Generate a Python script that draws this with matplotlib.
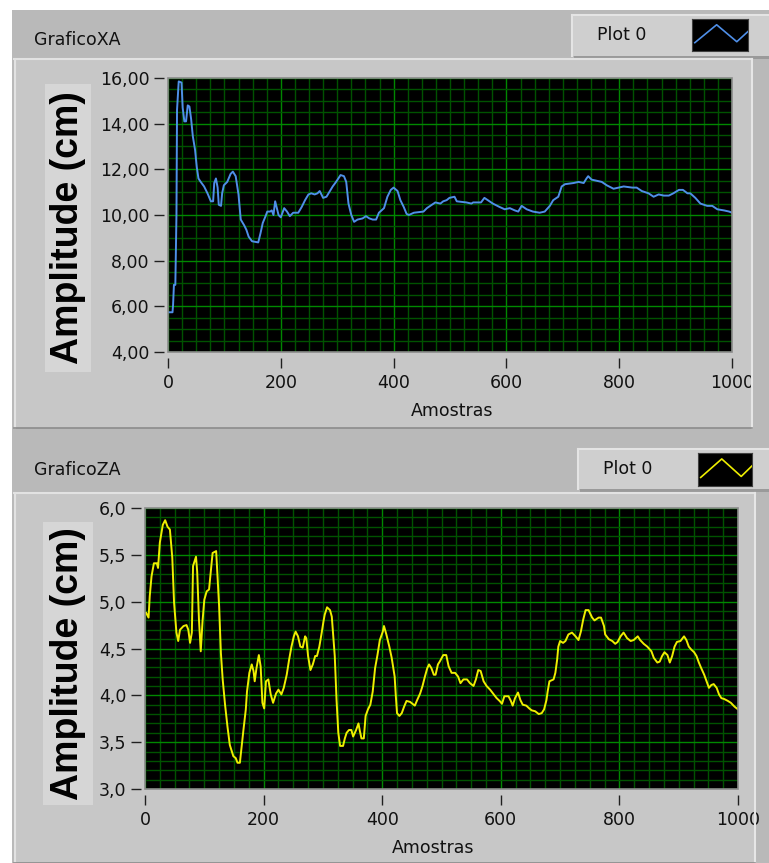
import matplotlib
matplotlib.use('Agg')
import matplotlib.pyplot as plt
from matplotlib.patches import Rectangle
from matplotlib.lines import Line2D
from matplotlib.ticker import MultipleLocator, FuncFormatter

W, H = 769, 863

# GraficoXA: amostra -> amplitude (cm)
xa_amostras = [2, 8, 9, 10.5, 13, 15, 16, 19, 24, 26,
               29, 32, 35, 38, 41, 44, 48, 51, 54, 58,
               64, 70, 76, 80, 82, 85, 88, 90, 94, 96,
               99, 105, 111, 115, 120, 125, 129, 135, 139, 143,
               149, 160, 164, 168, 173, 176, 181, 184, 187, 190,
               193, 196, 200, 206, 211, 216, 222, 231, 237, 243,
               249, 254, 260, 265, 269, 275, 281, 287, 292, 298,
               306, 312, 316, 320, 325, 330, 336, 345, 351, 357,
               363, 369, 374, 383, 389, 395, 400, 407, 412, 418,
               423, 427, 436, 453, 459, 468, 474, 483, 488, 494,
               499, 508, 512, 529, 538, 541, 555, 561, 567, 576,
               588, 597, 606, 615, 621, 627, 636, 647, 659, 668,
               677, 683, 692, 698, 704, 719, 728, 737, 742, 745,
               751, 760, 769, 778, 790, 799, 808, 823, 831, 840,
               852, 861, 870, 879, 888, 896, 906, 913, 921, 926,
               935, 944, 956, 965, 974, 986, 995, 1000]
xa_amplitude = [5.74, 5.74, 6.06, 6.94, 6.94, 10.0, 14.6, 15.85, 15.8, 14.7,
                14.1, 14.1, 14.8, 14.75, 14.2, 13.45, 12.85, 12.1, 11.6, 11.45,
                11.25, 10.95, 10.6, 10.6, 11.4, 11.6, 11.2, 10.45, 10.4, 10.95,
                11.3, 11.45, 11.8, 11.9, 11.7, 10.9, 9.8, 9.55, 9.35, 9.05,
                8.85, 8.8, 9.2, 9.65, 9.95, 10.15, 10.15, 10.2, 10.0, 10.6,
                10.3, 10.0, 9.9, 10.3, 10.15, 9.95, 10.1, 10.1, 10.35, 10.65,
                10.9, 10.95, 10.9, 10.95, 11.05, 10.75, 10.8, 11.05, 11.25, 11.45,
                11.75, 11.7, 11.45, 10.5, 10.0, 9.7, 9.8, 9.85, 9.95, 9.85,
                9.8, 9.8, 10.1, 10.3, 10.8, 11.1, 11.2, 11.05, 10.65, 10.35,
                10.05, 10.0, 10.1, 10.15, 10.3, 10.45, 10.55, 10.5, 10.6, 10.65,
                10.75, 10.8, 10.6, 10.55, 10.5, 10.55, 10.55, 10.75, 10.65, 10.5,
                10.35, 10.25, 10.3, 10.2, 10.15, 10.4, 10.25, 10.15, 10.1, 10.15,
                10.4, 10.65, 10.8, 11.25, 11.35, 11.4, 11.45, 11.4, 11.6, 11.7,
                11.55, 11.5, 11.45, 11.3, 11.15, 11.2, 11.25, 11.2, 11.2, 11.05,
                10.95, 10.8, 10.9, 10.85, 10.85, 10.95, 11.1, 11.1, 10.95, 10.95,
                10.75, 10.5, 10.4, 10.4, 10.25, 10.2, 10.15, 10.1]

# GraficoZA
za_amostras = [2, 6, 8, 11, 15, 20, 22, 25, 30, 34,
               38, 42, 46, 49, 53, 56, 59, 65, 70, 73,
               76, 79, 81, 86, 88, 91, 94, 97, 100, 104,
               108, 111, 114, 120, 122, 125, 128, 131, 135, 139,
               143, 149, 153, 156, 160, 163, 166, 170, 172, 176,
               180, 183, 185, 188, 192, 195, 198, 201, 204, 208,
               212, 216, 221, 225, 230, 234, 239, 243, 247, 251,
               254, 258, 262, 266, 270, 272, 275, 279, 283, 287,
               290, 294, 298, 301, 303, 307, 312, 315, 317, 320,
               323, 326, 329, 334, 337, 340, 344, 348, 351, 356,
               360, 362, 365, 369, 372, 376, 380, 384, 388, 392,
               396, 401, 403, 407, 412, 416, 421, 423, 425, 429,
               433, 437, 441, 447, 451, 455, 459, 464, 468, 472,
               476, 479, 483, 487, 490, 494, 497, 503, 508, 512,
               517, 523, 528, 532, 537, 543, 548, 554, 558, 562,
               566, 571, 576, 582, 588, 593, 598, 602, 606, 613,
               617, 620, 624, 629, 633, 637, 643, 648, 652, 658,
               664, 669, 673, 677, 679, 682, 689, 692, 695, 697,
               700, 705, 709, 714, 720, 726, 731, 735, 739, 743,
               748, 754, 758, 765, 769, 774, 776, 782, 788, 793,
               797, 802, 807, 813, 819, 824, 831, 835, 841, 847,
               854, 858, 864, 868, 872, 876, 881, 885, 889, 893,
               897, 903, 909, 913, 917, 921, 926, 930, 934, 938,
               943, 947, 951, 955, 959, 964, 968, 972, 977, 983,
               988, 994, 1000]
za_amplitude = [4.88, 4.83, 5.06, 5.27, 5.41, 5.41, 5.36, 5.63, 5.82, 5.87,
                5.80, 5.77, 5.47, 4.99, 4.67, 4.58, 4.70, 4.74, 4.75, 4.70,
                4.56, 4.67, 5.38, 5.48, 5.32, 4.81, 4.47, 4.79, 5.02, 5.11,
                5.13, 5.32, 5.52, 5.54, 5.31, 4.95, 4.45, 4.17, 3.90, 3.67,
                3.47, 3.35, 3.33, 3.28, 3.28, 3.46, 3.63, 3.85, 4.04, 4.24,
                4.33, 4.26, 4.15, 4.29, 4.43, 4.31, 3.92, 3.86, 4.15, 4.17,
                4.01, 3.92, 4.02, 4.06, 4.01, 4.08, 4.22, 4.38, 4.52, 4.63,
                4.68, 4.63, 4.52, 4.51, 4.63, 4.61, 4.42, 4.27, 4.33, 4.42,
                4.42, 4.52, 4.67, 4.79, 4.86, 4.94, 4.91, 4.84, 4.67, 4.42,
                3.95, 3.60, 3.46, 3.46, 3.54, 3.60, 3.63, 3.63, 3.56, 3.63,
                3.70, 3.63, 3.54, 3.54, 3.78, 3.85, 3.90, 4.04, 4.29, 4.43,
                4.59, 4.68, 4.74, 4.65, 4.52, 4.40, 4.20, 3.99, 3.81, 3.78,
                3.81, 3.88, 3.94, 3.93, 3.91, 3.89, 3.95, 4.02, 4.10, 4.20,
                4.29, 4.33, 4.29, 4.22, 4.22, 4.33, 4.36, 4.43, 4.43, 4.31,
                4.24, 4.24, 4.20, 4.13, 4.17, 4.17, 4.13, 4.10, 4.17, 4.27,
                4.26, 4.15, 4.10, 4.06, 4.01, 3.97, 3.94, 3.91, 3.99, 3.99,
                3.94, 3.89, 3.97, 4.03, 3.95, 3.90, 3.89, 3.86, 3.84, 3.83,
                3.80, 3.81, 3.85, 3.95, 4.04, 4.15, 4.17, 4.24, 4.38, 4.52,
                4.58, 4.56, 4.58, 4.65, 4.67, 4.63, 4.59, 4.68, 4.81, 4.91,
                4.91, 4.83, 4.80, 4.83, 4.83, 4.74, 4.65, 4.60, 4.58, 4.55,
                4.57, 4.63, 4.67, 4.61, 4.58, 4.59, 4.63, 4.59, 4.55, 4.52,
                4.47, 4.40, 4.35, 4.36, 4.42, 4.46, 4.43, 4.35, 4.42, 4.52,
                4.57, 4.58, 4.63, 4.59, 4.52, 4.49, 4.46, 4.42, 4.35, 4.29,
                4.22, 4.15, 4.08, 4.11, 4.12, 4.08, 4.01, 3.97, 3.96, 3.94,
                3.92, 3.88, 3.85]

x_ticks = [0, 200, 400, 600, 800, 1000]
xa_yticks = [4, 6, 8, 10, 12, 14, 16]
za_yticks = [3.0, 3.5, 4.0, 4.5, 5.0, 5.5, 6.0]

# zig-zag do icone da legenda (coordenadas do icone)
icon_x = [0.05, 0.44, 0.80, 1.0]
icon_y = [0.26, 0.82, 0.29, 0.61]

GRAY_OUT = '#b9b9b9'
GRAY_IN = '#c7c7c7'
GRAY_LBL = '#d6d6d6'
TXT = '#111111'
FONT = 'DejaVu Sans'


def rect_px(x0, y0, x1, y1):
    return [x0 / W, 1 - y1 / H, (x1 - x0) / W, (y1 - y0) / H]


def box(fig, x0, y0, x1, y1, color, z=0):
    l, b, w, h = rect_px(x0, y0, x1, y1)
    fig.add_artist(Rectangle((l, b), w, h, facecolor=color, edgecolor='none', zorder=z))


def hline(fig, x0, x1, y, color, lw=1.0):
    fig.add_artist(Line2D([x0 / W, x1 / W], [1 - y / H, 1 - y / H], color=color, lw=lw))


def vline(fig, x, y0, y1, color, lw=1.0):
    fig.add_artist(Line2D([x / W, x / W], [1 - y0 / H, 1 - y1 / H], color=color, lw=lw))


def chart(fig, g, xs, ys, color, yticks, ystep, ndec, title):
    # painel interno com relevo
    x0, y0, x1, y1 = g['panel']
    box(fig, x0, y0, x1, y1, GRAY_IN)
    hline(fig, x0, x1, y0, '#e2e2e2', 1.5)
    vline(fig, x0 + 1, y0, y1, '#e2e2e2', 1.5)
    vline(fig, x1, y0, y1, '#e6e6e6', 1.5)
    hline(fig, x0, x1, y1, '#8c8c8c', 1.2)

    # caixa do rotulo Y
    lx0, ly0, lx1, ly1 = g['lbox']
    box(fig, lx0, ly0, lx1, ly1, GRAY_LBL)
    fig.text((lx0 + lx1) / 2 / W, 1 - (ly0 + ly1) / 2 / H, 'Amplitude (cm)',
             rotation=90, ha='center', va='center', fontsize=27,
             family='Liberation Sans', weight='bold', color='black')

    # titulo e legenda
    tx, ty = g['title']
    fig.text(tx / W, 1 - ty / H, title, fontsize=12.5, family=FONT,
             color=TXT, ha='left', va='center')
    gx0, gy0, gx1, gy1 = g['legend']
    box(fig, gx0 + 2, gy0 + 2, gx1, gy1 + 3, '#9a9a9a')
    box(fig, gx0, gy0, gx1, gy1, '#cfcfcf')
    hline(fig, gx0, gx1, gy0, '#e4e4e4', 1.5)
    vline(fig, gx0, gy0, gy1, '#e4e4e4', 1.5)
    fig.text((gx0 + 25) / W, 1 - (gy0 + gy1) / 2 / H, 'Plot 0', fontsize=12.5,
             family=FONT, color=TXT, ha='left', va='center')
    icon = fig.add_axes(rect_px(*g['icon']))
    icon.set_facecolor('black')
    icon.plot(icon_x, icon_y, color=color, lw=1.2)
    icon.set_xlim(0, 1)
    icon.set_ylim(0, 1)
    icon.set_xticks([])
    icon.set_yticks([])
    for s in icon.spines.values():
        s.set_color('#404040')

    # area do grafico
    ax = fig.add_axes(rect_px(*g['plot']))
    ax.set_facecolor('black')
    ax.plot(xs, ys, color=color, lw=1.4, zorder=3)
    ax.set_xlim(0, 1000)
    ax.set_ylim(yticks[0], yticks[-1])
    ax.set_xticks(x_ticks)
    ax.set_yticks(yticks)
    ax.xaxis.set_minor_locator(MultipleLocator(25))
    ax.yaxis.set_minor_locator(MultipleLocator(ystep))
    ax.grid(which='minor', color='#005200', lw=1.0)
    ax.grid(which='major', color='#008800', lw=1.0)
    ax.yaxis.set_major_formatter(FuncFormatter(
        lambda v, p: ('{:.%df}' % ndec).format(v).replace('.', ',')))
    ax.tick_params(which='minor', length=0)
    ax.tick_params(which='major', direction='out', length=7.5, width=1,
                   color='#202020', labelsize=12.5, labelcolor=TXT)
    ax.tick_params(axis='y', pad=3)
    ax.tick_params(axis='x', pad=4)
    for lbl in ax.get_xticklabels() + ax.get_yticklabels():
        lbl.set_family(FONT)
    ax.spines['left'].set_position(('outward', 3))
    ax.spines['bottom'].set_position(('outward', 4))
    for s in ax.spines.values():
        s.set_visible(False)
    ax.add_patch(Rectangle((0, 0), 1, 1, transform=ax.transAxes, fill=False,
                           edgecolor='#8a8a8a', lw=1.2, clip_on=False, zorder=5))
    ax_x, ax_y = g['xlabel']
    fig.text(ax_x / W, 1 - ax_y / H, 'Amostras', fontsize=12.5, family=FONT,
             color=TXT, ha='center', va='center')
    return ax


fig = plt.figure(figsize=(W / 100, H / 100), dpi=100)
fig.patch.set_facecolor('white')

# fundo cinza geral
box(fig, 12, 10, W, H, GRAY_OUT, z=-1)

geo_xa = dict(panel=(14, 59, 752, 428), lbox=(45, 84, 91, 372),
              title=(34, 40), legend=(572, 15, W, 56), icon=(692, 19, 748, 51),
              plot=(168, 78, 732, 352), xlabel=(452, 411))
geo_za = dict(panel=(14, 493, 755, H), lbox=(43, 522, 93, 805),
              title=(34, 470), legend=(578, 449, W, 489), icon=(698, 453, 752, 486),
              plot=(145, 508, 738, 789), xlabel=(433, 848))

chart(fig, geo_xa, xa_amostras, xa_amplitude, '#4f8fe8', xa_yticks, 0.5, 2, 'GraficoXA')
chart(fig, geo_za, za_amostras, za_amplitude, '#eeee00', za_yticks, 0.1, 1, 'GraficoZA')

fig.savefig('out.png', dpi=100, facecolor=fig.get_facecolor())
